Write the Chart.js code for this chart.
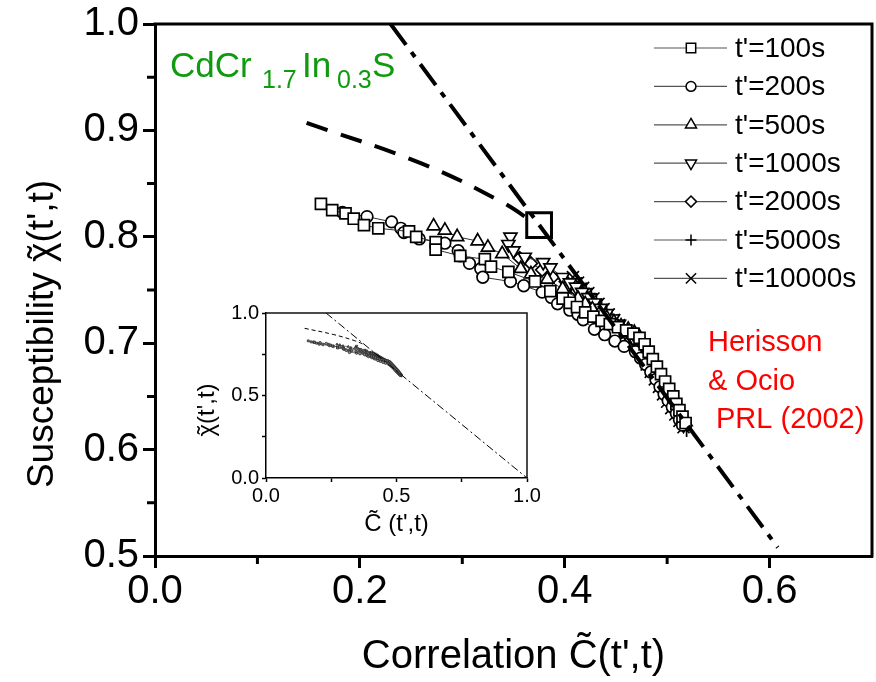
<!DOCTYPE html>
<html>
<head>
<meta charset="utf-8">
<script src="https://cdn.jsdelivr.net/npm/chart.js@4.4.0/dist/chart.umd.min.js"></script>
<style>
  html, body { margin: 0; padding: 0; background: #fff; }
  #wrap { position: relative; width: 876px; height: 682px; overflow: hidden; }
  #mainChart { position: absolute; left: 0; top: 0; }
  #insetChart { position: absolute; left: 190px; top: 296px; }
</style>
</head>
<body>
<div id="wrap">
  <canvas id="mainChart" width="876" height="682"></canvas>
  <canvas id="insetChart" width="370" height="245"></canvas>
</div>
<script>
// series: [C(t',t), chi(t',t)]
const seriesNames = ["t'=100s", "t'=200s", "t'=500s", "t'=1000s", "t'=2000s", "t'=5000s", "t'=10000s"];

const s100 = [[0.162,0.831],[0.173,0.825],[0.186,0.822],[0.194,0.817],[0.204,0.811],[0.218,0.808],
  [0.248,0.805],[0.255,0.800],[0.274,0.795],[0.274,0.788],[0.298,0.782],[0.322,0.779],[0.328,0.772],
  [0.345,0.767],[0.371,0.758],[0.386,0.749],[0.398,0.742],[0.405,0.738],[0.412,0.734],[0.420,0.729],
  [0.428,0.725],[0.436,0.721],[0.444,0.718],[0.452,0.715],[0.460,0.712],[0.467,0.709],[0.473,0.705],
  [0.478,0.699],[0.482,0.692],[0.486,0.685],[0.490,0.678],[0.494,0.671],[0.498,0.664],[0.502,0.657],
  [0.506,0.650],[0.509,0.643],[0.512,0.637],[0.515,0.631],[0.518,0.625]];

const s200 = [[0.183,0.823],[0.207,0.819],[0.231,0.814],[0.240,0.808],[0.243,0.804],[0.258,0.798],
  [0.283,0.794],[0.296,0.787],[0.298,0.782],[0.307,0.775],[0.318,0.770],[0.320,0.762],[0.347,0.758],
  [0.360,0.754],[0.378,0.748],[0.387,0.743],[0.393,0.737],[0.405,0.731],[0.413,0.727],[0.418,0.722],
  [0.429,0.713],[0.439,0.708],[0.449,0.702],[0.458,0.697],[0.469,0.692],[0.474,0.686],[0.479,0.680],
  [0.484,0.673],[0.489,0.666],[0.493,0.659],[0.497,0.652],[0.501,0.646],[0.505,0.640],[0.509,0.634],
  [0.512,0.628],[0.515,0.623]];

const s500 = [[0.272,0.810],[0.283,0.806],[0.295,0.800],[0.315,0.796],[0.325,0.790],[0.339,0.784],
  [0.357,0.770],[0.367,0.765],[0.383,0.760],[0.398,0.751],[0.413,0.742],[0.420,0.737],[0.427,0.732],
  [0.434,0.728],[0.441,0.724],[0.448,0.720],[0.455,0.716],[0.462,0.713],[0.468,0.710],[0.473,0.706],
  [0.477,0.700],[0.481,0.693],[0.485,0.686],[0.489,0.679],[0.493,0.672],[0.497,0.665],[0.501,0.658],
  [0.505,0.651],[0.509,0.644],[0.512,0.638],[0.515,0.632],[0.518,0.626]];

const s1000 = [[0.347,0.800],[0.345,0.793],[0.350,0.787],[0.361,0.781],[0.379,0.776],[0.386,0.771],
  [0.398,0.762],[0.405,0.757],[0.411,0.753],[0.417,0.748],[0.423,0.743],[0.429,0.738],[0.435,0.733],
  [0.441,0.728],[0.447,0.723],[0.453,0.718],[0.459,0.713],[0.464,0.707],[0.469,0.701],[0.474,0.695],
  [0.478,0.689],[0.482,0.682],[0.486,0.676],[0.490,0.669],[0.494,0.662],[0.498,0.655],[0.502,0.648],
  [0.506,0.641],[0.510,0.634],[0.513,0.628],[0.516,0.623]];

const s2000 = [[0.356,0.780],[0.367,0.775],[0.378,0.769],[0.388,0.762],[0.401,0.758],[0.406,0.753],
  [0.412,0.749],[0.418,0.745],[0.424,0.740],[0.430,0.735],[0.436,0.730],[0.442,0.725],[0.448,0.720],
  [0.454,0.715],[0.460,0.709],[0.465,0.703],[0.470,0.697],[0.475,0.691],[0.479,0.685],[0.483,0.679],
  [0.487,0.672],[0.491,0.665],[0.495,0.658],[0.499,0.651],[0.503,0.644],[0.507,0.638],[0.511,0.632],
  [0.514,0.627]];

const s5000 = [[0.416,0.756],[0.421,0.751],[0.426,0.746],[0.431,0.741],[0.436,0.736],[0.441,0.731],
  [0.446,0.726],[0.451,0.721],[0.456,0.715],[0.461,0.709],[0.466,0.703],[0.471,0.697],[0.475,0.690],
  [0.479,0.684],[0.483,0.677],[0.487,0.670],[0.491,0.663],[0.495,0.656],[0.499,0.649],[0.503,0.642],
  [0.507,0.636],[0.511,0.630],[0.515,0.624],[0.519,0.618]];

const s10000 = [[0.408,0.762],[0.413,0.757],[0.418,0.752],[0.423,0.747],[0.428,0.742],[0.433,0.737],
  [0.438,0.732],[0.443,0.727],[0.448,0.722],[0.453,0.717],[0.458,0.711],[0.463,0.705],[0.468,0.699],
  [0.472,0.693],[0.476,0.687],[0.480,0.680],[0.484,0.673],[0.488,0.666],[0.492,0.659],[0.496,0.652],
  [0.500,0.645],[0.504,0.639],[0.508,0.633],[0.512,0.627],[0.516,0.621]];

const dashedLine = [[0.148,0.907],[0.260,0.869],[0.338,0.833],[0.372,0.812]];
const dashDotLine = [[0.230,1.000],[0.608,0.508]];
const dashDotInset = [[0.230,1.000],[1.000,0.000]];
const boxPoint = [[0.375,0.811]];

const xLabelsMain = [0.0, 0.2, 0.4, 0.6];
const yLabelsMain = [0.5, 0.6, 0.7, 0.8, 0.9, 1.0];
const xMinorMain = [0.1, 0.3, 0.5];
const yMinorMain = [0.55, 0.65, 0.75, 0.85, 0.95];
const xLabelsInset = [0.0, 0.5, 1.0];
const yLabelsInset = [0.0, 0.5, 1.0];
const insetTicks = [0.0, 0.25, 0.5, 0.75, 1.0];

const series = [s100, s200, s500, s1000, s2000, s5000, s10000];

const markers = [
  { pointStyle: 'rect', radius: 7.8, rotation: 0 },
  { pointStyle: 'circle', radius: 5.8, rotation: 0 },
  { pointStyle: 'triangle', radius: 7.5, rotation: 0 },
  { pointStyle: 'triangle', radius: 7.5, rotation: 180 },
  { pointStyle: 'rectRot', radius: 6.5, rotation: 0 },
  { pointStyle: 'cross', radius: 6.5, rotation: 0 },
  { pointStyle: 'crossRot', radius: 8.5, rotation: 0 }
];

const FONT = "'Liberation Sans', Arial, sans-serif";
const toXY = arr => arr.map(p => ({ x: p[0], y: p[1] }));
const inList = (v, list) => list.some(t => Math.abs(t - v) < 1e-6);

function refLine(data, width, dash, tension) {
  return {
    type: 'scatter', data: toXY(data), showLine: true, pointRadius: 0, tension: tension || 0,
    borderColor: '#000', borderWidth: width, borderDash: dash, borderCapStyle: 'butt'
  };
}

function axis(min, max, step, labels, size, tickLen, tickW, fit, isX) {
  return {
    type: 'linear', min: min, max: max,
    afterFit: s => {
      if (isX) s.height = fit; else s.width = fit;
      s.paddingLeft = 0; s.paddingRight = 0; s.paddingTop = 0; s.paddingBottom = 0;
    },
    border: { display: true, width: tickW, color: '#000' },
    grid: {
      drawOnChartArea: false, drawTicks: true, tickLength: tickLen, tickWidth: tickW,
      tickColor: c => inList(c.tick.value, labels) ? '#000' : 'rgba(0,0,0,0)'
    },
    ticks: {
      stepSize: step, autoSkip: false, maxRotation: 0, color: '#000',
      padding: isX ? 0 : 4,
      font: { family: FONT, size: size },
      callback: v => inList(v, labels) ? v.toFixed(1) : ''
    }
  };
}

// text centred on the origin, with a tilde placed over the greek letter
function tildeText(ctx, prefix, base, suffix, size) {
  ctx.font = size + 'px ' + FONT;
  ctx.textAlign = 'left';
  ctx.textBaseline = 'alphabetic';
  const wP = ctx.measureText(prefix).width;
  const wB = ctx.measureText(base).width;
  const wS = ctx.measureText(suffix).width;
  const wT = ctx.measureText('\u02DC').width;
  const x0 = -(wP + wB + wS) / 2;
  const by = size * 0.36;
  ctx.fillText(prefix, x0, by);
  ctx.fillText(base, x0 + wP, by);
  ctx.fillText('\u02DC', x0 + wP + (wB - wT) / 2, by + size * 0.02);
  ctx.fillText(suffix, x0 + wP + wB, by);
}

// ---------- main chart ----------
const mainDecor = {
  id: 'mainDecor',
  afterDraw(chart) {
    const { ctx, chartArea: a, scales: { x, y } } = chart;
    ctx.save();
    ctx.strokeStyle = '#000';
    ctx.lineWidth = 3;
    ctx.beginPath();
    ctx.moveTo(a.left - 1.5, a.top);
    ctx.lineTo(a.right, a.top);
    ctx.lineTo(a.right, a.bottom + 1.5);
    ctx.stroke();

    ctx.beginPath();
    xMinorMain.forEach(v => {
      const px = x.getPixelForValue(v);
      ctx.moveTo(px, a.bottom); ctx.lineTo(px, a.bottom + 8);
    });
    yMinorMain.forEach(v => {
      const py = y.getPixelForValue(v);
      ctx.moveTo(a.left, py); ctx.lineTo(a.left - 8, py);
    });
    ctx.stroke();

    // axis titles
    ctx.fillStyle = '#000';
    ctx.textAlign = 'center';
    ctx.textBaseline = 'middle';
    ctx.font = '40px ' + FONT;
    ctx.fillText("Correlation C\u0303(t',t)", (a.left + a.right) / 2, 657);
    ctx.save();
    ctx.translate(40, 334);
    ctx.rotate(-Math.PI / 2);
    tildeText(ctx, 'Susceptibility ', '\u03C7', "(t',t)", 37);
    ctx.restore();

    // sample name
    ctx.fillStyle = '#109a10';
    ctx.textAlign = 'left';
    ctx.textBaseline = 'alphabetic';
    ctx.font = '35px ' + FONT;
    ctx.fillText('CdCr', 170, 77);
    ctx.font = '25px ' + FONT;
    ctx.fillText('1.7', 262, 88);
    ctx.font = '35px ' + FONT;
    ctx.fillText('In', 302, 77);
    ctx.font = '25px ' + FONT;
    ctx.fillText('0.3', 337, 88);
    ctx.font = '35px ' + FONT;
    ctx.fillText('S', 372, 77);

    // reference
    ctx.fillStyle = '#ff0000';
    ctx.textBaseline = 'middle';
    ctx.font = '29px ' + FONT;
    ctx.fillText('Herisson', 708, 343);
    ctx.fillText('& Ocio', 708, 382);
    ctx.fillText('PRL (2002)', 716, 420);

    // legend
    ctx.textBaseline = 'middle';
    ctx.font = '28px ' + FONT;
    seriesNames.forEach((name, i) => {
      const ly = 48 + i * 38.4;
      ctx.strokeStyle = '#555';
      ctx.lineWidth = 1.2;
      ctx.beginPath();
      ctx.moveTo(654, ly); ctx.lineTo(727, ly);
      ctx.stroke();
      ctx.strokeStyle = '#000';
      ctx.fillStyle = '#fff';
      ctx.lineWidth = 1.5;
      Chart.helpers.drawPoint(ctx, {
        pointStyle: markers[i].pointStyle, rotation: markers[i].rotation,
        radius: markers[i].radius * 0.85, borderWidth: 1.5
      }, 691, ly);
      ctx.fillStyle = '#000';
      ctx.fillText(name, 735, ly + 1);
    });
    ctx.restore();
  }
};

const mainSets = series.map((s, i) => ({
  type: 'scatter', label: seriesNames[i], data: toXY(s), showLine: true,
  borderColor: '#333', borderWidth: 1,
  pointStyle: markers[i].pointStyle, pointRadius: markers[i].radius, pointRotation: markers[i].rotation,
  pointBorderColor: '#000', pointBackgroundColor: '#fff', pointBorderWidth: 1.7
}));

new Chart(document.getElementById('mainChart'), {
  type: 'scatter',
  data: {
    datasets: [
      refLine(dashDotLine, 4, [26, 9, 6, 9]),
      refLine(dashedLine, 4, [22, 14], 0.4),
      {
        type: 'scatter', data: toXY(boxPoint), pointStyle: 'rect', pointRadius: 17.5,
        pointBorderColor: '#000', pointBackgroundColor: 'rgba(0,0,0,0)', pointBorderWidth: 3
      }
    ].concat(mainSets)
  },
  options: {
    responsive: false, animation: false, devicePixelRatio: 1,
    layout: { autoPadding: false, padding: { top: 24, right: 4, left: 0, bottom: 0 } },
    plugins: { legend: { display: false }, tooltip: { enabled: false } },
    scales: {
      x: axis(0, 0.7, 0.1, xLabelsMain, 40, 12, 3, 126, true),
      y: axis(0.5, 1.0, 0.05, yLabelsMain, 40, 12, 3, 155, false)
    }
  },
  plugins: [mainDecor]
});

// ---------- inset ----------
const insetDecor = {
  id: 'insetDecor',
  afterDraw(chart) {
    const { ctx, chartArea: a } = chart;
    ctx.save();
    ctx.strokeStyle = '#111';
    ctx.lineWidth = 1.5;
    ctx.beginPath();
    ctx.moveTo(a.left, a.top);
    ctx.lineTo(a.right, a.top);
    ctx.lineTo(a.right, a.bottom);
    ctx.stroke();
    ctx.fillStyle = '#000';
    ctx.textAlign = 'center';
    ctx.textBaseline = 'middle';
    ctx.font = '24px ' + FONT;
    ctx.fillText("C\u0303 (t',t)", (a.left + a.right) / 2, 228);
    ctx.save();
    ctx.translate(15, 114);
    ctx.rotate(-Math.PI / 2);
    tildeText(ctx, '', '\u03C7', "(t',t)", 24);
    ctx.restore();
    ctx.restore();
  }
};

const insetSets = series.map((s, i) => ({
  type: 'scatter', data: toXY(s), showLine: true,
  borderColor: '#555', borderWidth: 0.8,
  pointStyle: markers[i].pointStyle, pointRadius: 1.4, pointRotation: markers[i].rotation,
  pointBorderColor: '#222', pointBackgroundColor: '#888', pointBorderWidth: 0.7
}));

function insetAxis(labels, fit, isX) {
  const ax = axis(0, 1, 0.25, labels, 20, 4, 1.5, fit, isX);
  ax.grid.tickColor = c => inList(c.tick.value, insetTicks) ? '#000' : 'rgba(0,0,0,0)';
  ax.ticks.padding = isX ? 2 : 3;
  return ax;
}

new Chart(document.getElementById('insetChart'), {
  type: 'scatter',
  data: {
    datasets: [
      refLine(dashDotInset, 1, [8, 3, 2, 3]),
      refLine(dashedLine, 1, [4, 3], 0.4)
    ].concat(insetSets)
  },
  options: {
    responsive: false, animation: false, devicePixelRatio: 1,
    layout: { autoPadding: false, padding: { top: 17, right: 33, left: 0, bottom: 0 } },
    plugins: { legend: { display: false }, tooltip: { enabled: false } },
    scales: {
      x: insetAxis(xLabelsInset, 63, true),
      y: insetAxis(yLabelsInset, 76, false)
    }
  },
  plugins: [insetDecor]
});
</script>
</body>
</html>
